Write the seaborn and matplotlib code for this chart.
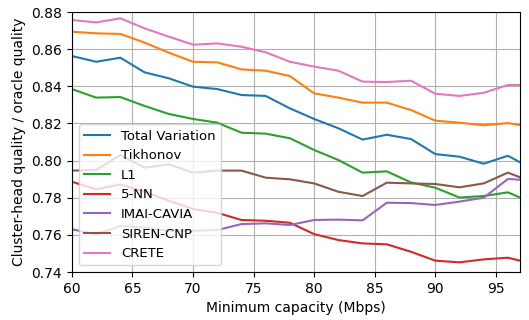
import numpy as np
import pandas as pd
import matplotlib
matplotlib.use("Agg")
import matplotlib.pyplot as plt
import seaborn as sns

capacity = [60, 62, 64, 66, 68, 70, 72, 74, 76, 78, 80, 82, 84, 86, 88, 90, 92, 94, 96, 97]

total_variation = [0.8563, 0.8532, 0.8554, 0.8475, 0.8443, 0.8398, 0.8385, 0.8353, 0.8348, 0.8281,
                   0.8224, 0.8174, 0.8113, 0.8139, 0.8116, 0.8035, 0.8021, 0.7983, 0.8026, 0.7991]
tikhonov = [0.8694, 0.8685, 0.8682, 0.8635, 0.8581, 0.8532, 0.8529, 0.8491, 0.8484, 0.8455,
            0.8362, 0.8339, 0.8312, 0.8312, 0.8272, 0.8215, 0.8204, 0.8190, 0.8202, 0.8191]
l1 = [0.8385, 0.8339, 0.8342, 0.8294, 0.8251, 0.8224, 0.8204, 0.8150, 0.8145, 0.8120,
      0.8057, 0.8003, 0.7935, 0.7942, 0.7882, 0.7854, 0.7801, 0.7809, 0.7829, 0.7801]
nn5 = [0.7886, 0.7845, 0.7872, 0.7832, 0.7784, 0.7739, 0.7719, 0.7680, 0.7676, 0.7665,
       0.7604, 0.7572, 0.7554, 0.7549, 0.7509, 0.7461, 0.7452, 0.7468, 0.7477, 0.7461]
imai_cavia = [0.7630, 0.7603, 0.7648, 0.7639, 0.7621, 0.7622, 0.7626, 0.7658, 0.7662, 0.7653,
              0.7680, 0.7682, 0.7678, 0.7773, 0.7771, 0.7761, 0.7779, 0.7800, 0.7901, 0.7897]
siren_cnp = [0.7946, 0.7949, 0.8030, 0.7962, 0.7980, 0.7935, 0.7946, 0.7946, 0.7908, 0.7899,
             0.7877, 0.7832, 0.7809, 0.7881, 0.7877, 0.7874, 0.7856, 0.7877, 0.7935, 0.7910]
crete = [0.8757, 0.8744, 0.8766, 0.8712, 0.8667, 0.8624, 0.8631, 0.8613, 0.8583, 0.8532,
         0.8506, 0.8484, 0.8425, 0.8423, 0.8430, 0.8360, 0.8348, 0.8365, 0.8407, 0.8407]

methods = ["Total Variation", "Tikhonov", "L1", "5-NN", "IMAI-CAVIA", "SIREN-CNP", "CRETE"]
series = [total_variation, tikhonov, l1, nn5, imai_cavia, siren_cnp, crete]

rows = []
for m, vals in zip(methods, series):
    for c, v in zip(capacity, vals):
        rows.append({"capacity": c, "quality": v, "method": m})
df = pd.DataFrame(rows)

plt.rcParams["font.family"] = ["DejaVu Sans"]
fig = plt.figure(figsize=(5.29, 3.20), dpi=100)
ax = fig.add_axes([0.136, 0.15, 0.847, 0.8125])
palette = sns.color_palette("tab10", 7)
sns.lineplot(data=df, x="capacity", y="quality", hue="method", hue_order=methods,
             palette=palette, ax=ax, linewidth=1.5)
ax.grid(True, color="#b0b0b0", linewidth=0.8)
ax.set_axisbelow(True)
ax.set_xlim(60, 97)
ax.set_ylim(0.74, 0.88)
ax.set_yticks(np.arange(0.74, 0.881, 0.02))
ax.set_xlabel("Minimum capacity (Mbps)")
ax.set_ylabel("Cluster-head quality / oracle quality")
leg = ax.legend(loc="lower left", title=None, fontsize=9.5)
fig.savefig("out.png", dpi=100)
